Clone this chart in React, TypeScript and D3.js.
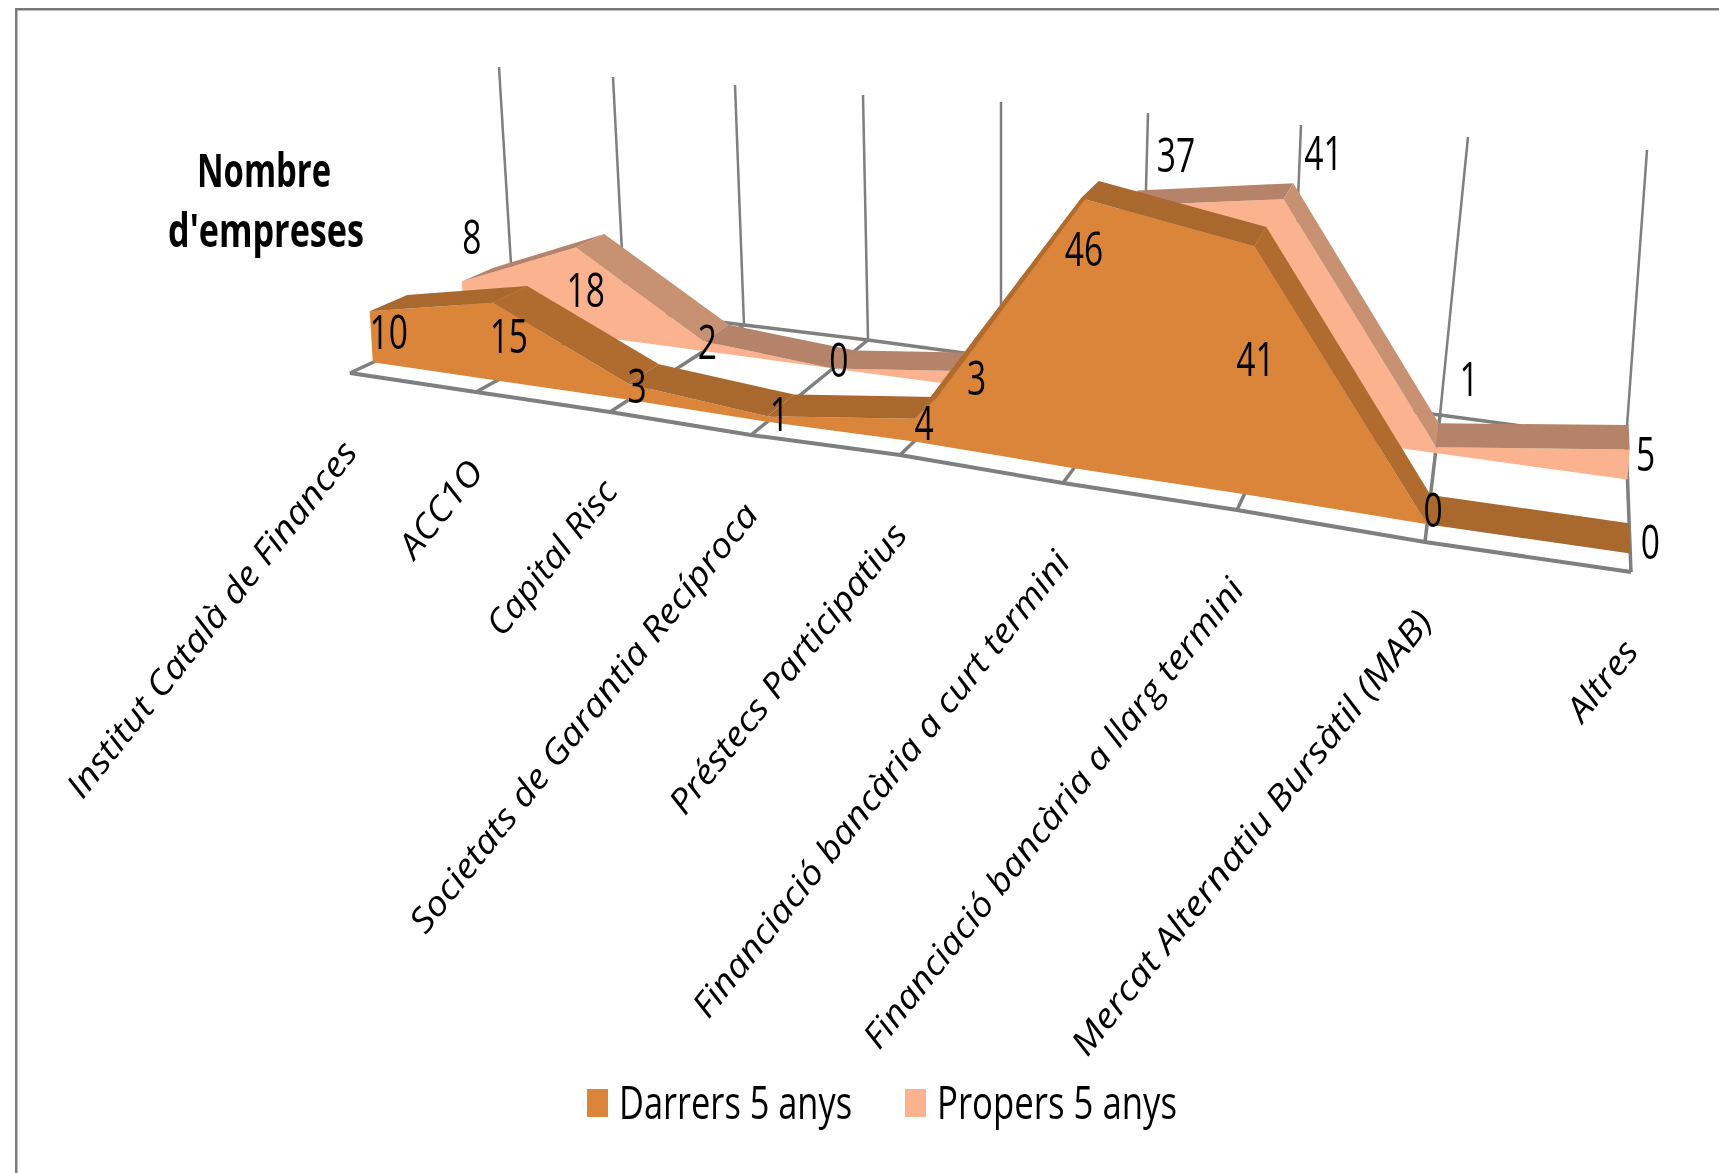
import React from "react";
import * as d3 from "d3";

// ---- data
const categories = [
  "Institut Català de Finances",
  "ACC1O",
  "Capital Risc",
  "Societats de Garantia Recíproca",
  "Préstecs Participatius",
  "Financiació bancària a curt termini",
  "Financiació bancària a llarg termini",
  "Mercat Alternatiu Bursàtil (MAB)",
  "Altres",
];
const darrers = [10, 15, 3, 1, 4, 46, 41, 0, 0];
const propers = [8, 18, 2, 0, 3, 37, 41, 1, 5];
const seriesNames = ["Darrers 5 anys", "Propers 5 anys"];
const titleLines = ["Nombre", "d'empreses"];
const axisMax = 50;

// ---- perspective scene: scales from category index to floor / wall position
const idx = d3.range(categories.length);
const frontX = d3.scaleLinear<number>().domain(idx).range([350, 476, 610, 751, 900, 1063, 1237, 1425, 1631]);
const frontY = d3.scaleLinear<number>().domain(idx).range([373, 392, 412, 435, 455, 483, 510, 542, 572]);
const backX = d3.scaleLinear<number>().domain(idx).range([513, 625, 744, 868, 1001, 1141, 1290, 1440, 1626]);
const backY = d3.scaleLinear<number>().domain(idx).range([297, 310, 325, 340, 358, 377, 397, 415, 440]);
const topX = d3.scaleLinear<number>().domain(idx).range([499, 613, 735, 863, 1001, 1148, 1301, 1468, 1647]);
const topY = d3.scaleLinear<number>().domain(idx).range([67, 77, 85, 95, 102, 113, 125, 137, 150]);

function project(i: number, depth: number, value: number): [number, number] {
  const x0 = d3.interpolateNumber(frontX(i), backX(i))(depth);
  const y0 = d3.interpolateNumber(frontY(i), backY(i))(depth);
  const wall = backY(i) - topY(i);
  const lean = topX(i) - backX(i);
  const h = (value / axisMax) * wall * (1 + 0.13 * (1 - depth));
  return [x0 + (lean / wall) * h, y0 - h];
}

const lineGen = d3.line<[number, number]>();

function faceArea(values: number[], depth: number) {
  const area = d3
    .area<number>()
    .x0((_, i) => project(i, depth, 0)[0])
    .y0((_, i) => project(i, depth, 0)[1])
    .x1((v, i) => project(i, depth, v)[0])
    .y1((v, i) => project(i, depth, v)[1]);
  return area(values) as string;
}

function bandSegments(values: number[], d1: number, d2: number) {
  return values.slice(0, -1).map((v, i) => {
    const w = values[i + 1];
    const pts = [project(i, d1, v), project(i + 1, d1, w), project(i + 1, d2, w), project(i, d2, v)];
    const dx = pts[1][0] - pts[0][0];
    const dy = pts[1][1] - pts[0][1];
    return { d: lineGen(pts) + "Z", slope: Math.abs(dy / dx) };
  });
}

const depths = { darrers: [0.14, 0.37], propers: [0.7, 0.89] };
const colors = {
  darrersFace: "#DB853B",
  darrersBandA: "#A8682F",
  darrersBandB: "#B06C2E",
  propersFace: "#FBB28E",
  propersBandA: "#B5836A",
  propersBandB: "#C89172",
  grid: "#7f7f7f",
  frame: "#7a7a7a",
  ink: "#000000",
};

// label placement relative to each point's front-top corner
const darrersNudge = [[19, 19], [16, 32], [9, 1], [12, -4], [10, 3], [3, 49], [1, 111], [6, -16], [20, -13]];
const propersNudge = [[10, -46], [10, 41], [4, -1], [6, -10], [6, 5], [53, -52], [40, -48], [33, -70], [16, 3]];
const labelLengths = [444, 113, 187, 537, 360, 584, 589, 557, 92];

function Num({ x, y, v }: { x: number; y: number; v: number }) {
  return (
    <text
      transform={`translate(${x},${y}) scale(0.7,1)`}
      textAnchor="middle"
      dominantBaseline="central"
      fontFamily="'Open Sans'"
      fontSize={48}
      fill={colors.ink}
    >
      {v}
    </text>
  );
}

export default function App() {
  const s = seriesNames;
  return (
    <svg
      width={1719}
      height={1173}
      viewBox="0 0 1719 1173"
      style={{ position: "absolute", left: 0, top: 0, display: "block", background: "#fff" }}
    >
      <defs>
        <filter id="soft" x="0" y="0" width="100%" height="100%">
          <feGaussianBlur stdDeviation="0.7" />
        </filter>
      </defs>
      <g filter="url(#soft)">
        <path d="M15.5 1173V8.5H1719" fill="none" stroke={colors.frame} strokeWidth={4} />

        {/* walls and floor */}
        {idx.map((i) => (
          <path
            key={i}
            d={lineGen([[topX(i), topY(i)], [backX(i), backY(i)]]) as string}
            fill="none"
            stroke={colors.grid}
            strokeWidth={2.5}
          />
        ))}
        {idx.map((i) => (
          <path
            key={i}
            d={lineGen([[frontX(i), frontY(i)], [backX(i), backY(i)]]) as string}
            fill="none"
            stroke={colors.grid}
            strokeWidth={3.5}
          />
        ))}
        <path d={lineGen(idx.map((i) => [frontX(i), frontY(i)] as [number, number])) as string} fill="none" stroke={colors.grid} strokeWidth={4} />
        <path d={lineGen(idx.map((i) => [backX(i), backY(i)] as [number, number])) as string} fill="none" stroke={colors.grid} strokeWidth={3.5} />

        {/* Propers 5 anys */}
        <path d={faceArea(propers, depths.propers[0])} fill={colors.propersFace} />
        {bandSegments(propers, depths.propers[0], depths.propers[1]).map((b, i) => (
          <path key={i} d={b.d} fill={b.slope > 0.5 ? colors.propersBandB : colors.propersBandA} />
        ))}

        {/* Darrers 5 anys */}
        <path d={faceArea(darrers, depths.darrers[0])} fill={colors.darrersFace} />
        {bandSegments(darrers, depths.darrers[0], depths.darrers[1]).map((b, i) => (
          <path key={i} d={b.d} fill={b.slope > 0.5 ? colors.darrersBandB : colors.darrersBandA} />
        ))}

        {/* value labels */}
        {propers.map((v, i) => {
          const p = project(i, depths.propers[0], v);
          return <Num key={i} x={p[0] + propersNudge[i][0]} y={p[1] + propersNudge[i][1]} v={v} />;
        })}
        {darrers.map((v, i) => {
          const p = project(i, depths.darrers[0], v);
          return <Num key={i} x={p[0] + darrersNudge[i][0]} y={p[1] + darrersNudge[i][1]} v={v} />;
        })}

        {/* category labels */}
        {categories.map((c, i) => (
          <text
            key={c}
            transform={`translate(${frontX(i) + 9},${frontY(i) + 80}) rotate(-51.5)`}
            textAnchor="end"
            fontFamily="'Open Sans'"
            fontStyle="italic"
            fontSize={34}
            textLength={labelLengths[i]}
            lengthAdjust="spacingAndGlyphs"
            fill={colors.ink}
          >
            {c}
          </text>
        ))}

        {/* title */}
        <text x={264} y={187} textAnchor="middle" fontFamily="'Open Sans'" fontWeight={700} fontSize={46} textLength={134} lengthAdjust="spacingAndGlyphs" fill={colors.ink}>
          {titleLines[0]}
        </text>
        <text x={266} y={247} textAnchor="middle" fontFamily="'Open Sans'" fontWeight={700} fontSize={46} textLength={196} lengthAdjust="spacingAndGlyphs" fill={colors.ink}>
          {titleLines[1]}
        </text>

        {/* legend */}
        <rect x={587} y={1089} width={21} height={28} fill={colors.darrersFace} />
        <text x={619} y={1119} fontFamily="'Open Sans'" fontSize={46} textLength={233} lengthAdjust="spacingAndGlyphs" fill={colors.ink}>
          {s[0]}
        </text>
        <rect x={905} y={1089} width={21} height={28} fill={colors.propersFace} />
        <text x={937} y={1119} fontFamily="'Open Sans'" fontSize={46} textLength={240} lengthAdjust="spacingAndGlyphs" fill={colors.ink}>
          {s[1]}
        </text>
      </g>
    </svg>
  );
}
